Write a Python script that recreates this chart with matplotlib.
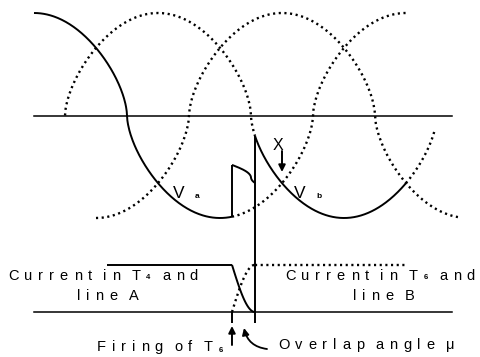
import numpy as np
import matplotlib
matplotlib.use("Agg")
import matplotlib.pyplot as plt
from matplotlib.transforms import IdentityTransform

plt.rcParams['font.family'] = ['Liberation Sans', 'DejaVu Sans']

W, H = 481, 357

# page layout of the sketch (pixels)
x0_px = 34.0        # left end of both axes, Va peak
period_px = 372.0   # one cycle
y0_px = 115.5       # voltage axis
amp_px = 102.5      # peak voltage

# waveform data (electrical degrees, per-unit)
shape_exp = 0.6                 # sketch waves are fuller than sinusoids
phase_a, phase_b, phase_c = 0, 120, 240
alpha = 191.6                   # firing of T6
mu = 22.3                       # overlap angle
w_comm = 0.66                   # weight of Va in the overlap voltage
axis_end = 404.5

va_solid = (0, alpha)
va_dot = (alpha, 360)
vb_solid = (alpha + mu, 360)
vb_dot = [(30, alpha + mu), (360, 388)]
vc_dot = (60, 412)

i_base = -1.917                 # current axis level
i_level = 0.46                  # load current
ia_start = 70.6
ib_end = 359


def px_x(p):
    return (p - x0_px) / period_px * 360


def px_y(p):
    return (y0_px - p) / amp_px


def wave(th, ph):
    c = np.cos(np.radians(th - ph))
    return np.sign(c) * np.abs(c) ** shape_exp


def span(a, b, n=300):
    return np.linspace(a, b, n)


fig = plt.figure(figsize=(W / 100, H / 100), dpi=100)
ax = fig.add_axes([0, 0, 1, 1])
ax.set_xlim(px_x(0), px_x(W))
ax.set_ylim(px_y(H), px_y(0))
ax.axis('off')

solid = dict(color='black', lw=1.4, solid_capstyle='butt')
dotted = dict(color='black', lw=1.7, linestyle=(0, (0.9, 1.5)), dash_capstyle='butt')

# axes
ax.plot([0, axis_end], [0, 0], color='black', lw=1.1)
ax.plot([0, axis_end], [i_base, i_base], color='black', lw=1.1)

# dotted phase voltages
t = span(*vc_dot)
ax.plot(t, wave(t, phase_c), **dotted)
for seg in vb_dot:
    t = span(*seg)
    ax.plot(t, wave(t, phase_b), **dotted)
t = span(*va_dot)
ax.plot(t, wave(t, phase_a), **dotted)

# solid output voltage
t = span(*va_solid)
ax.plot(t, wave(t, phase_a), **solid)
t = span(alpha, alpha + mu)
vcomm = w_comm * wave(t, phase_a) + (1 - w_comm) * wave(t, phase_b)
ax.plot(t, vcomm, **solid)
ax.plot([alpha, alpha], [wave(alpha, phase_a), vcomm[0]], **solid)
t = span(*vb_solid)
ax.plot(t, wave(t, phase_b), **solid)

# end of overlap line, down through the current axis
ax.plot([alpha + mu, alpha + mu], [wave(alpha + mu, phase_b), px_y(323)], **solid)
ax.plot([alpha, alpha], [i_base, px_y(323)], **solid)

# currents
s = np.linspace(0, 1, 100)
t = alpha + mu * s
ib = i_level * np.sin(np.pi / 2 * s)
ax.plot([ia_start, alpha], [i_base + i_level] * 2, **solid)
ax.plot(t, i_base + i_level - ib, **solid)
ax.plot(t, i_base + ib, **dotted)
ax.plot([alpha + mu, ib_end], [i_base + i_level] * 2, **dotted)

# arrows
ax.annotate('', xy=(px_x(282), px_y(172)), xytext=(px_x(282), px_y(151)),
            arrowprops=dict(arrowstyle='-|>', color='black', lw=1.4,
                            mutation_scale=10, shrinkA=0, shrinkB=0))
ax.annotate('', xy=(alpha, px_y(326)), xytext=(alpha, px_y(345)),
            arrowprops=dict(arrowstyle='-|>', color='black', lw=1.4,
                            mutation_scale=10, shrinkA=0, shrinkB=0))
ax.annotate('', xy=(px_x(244), px_y(328)), xytext=(px_x(267), px_y(349)),
            arrowprops=dict(arrowstyle='-|>', color='black', lw=1.3,
                            mutation_scale=10, shrinkA=0, shrinkB=0,
                            connectionstyle='arc3,rad=-0.35'))

renderer = fig.canvas.get_renderer()


def spaced(x, y, parts, track=5.8, gap=5.5):
    # letter-by-letter text with wide tracking, like the original
    for txt, fs, dy, bold in parts:
        for ch in txt:
            if ch == ' ':
                x += gap
                continue
            tt = fig.text(x, H - y - dy, ch, fontsize=fs, ha='left', va='center',
                          fontweight='bold' if bold else 'normal',
                          transform=IdentityTransform())
            x += tt.get_window_extent(renderer).width + track


spaced(8, 276, [('Current in T', 10.5, 0, False), ('4', 5.5, 1.5, True),
                (' and', 10.5, 0, False)])
spaced(77, 296, [('line A', 10.5, 0, False)])
spaced(285, 276, [('Current in T', 10.5, 0, False), ('6', 5.5, 1.5, True),
                  (' and', 10.5, 0, False)])
spaced(353, 296, [('line B', 10.5, 0, False)])
spaced(97, 347, [('Firing of T', 10.5, 0, False), ('6', 5.5, 3, True)])
spaced(278, 345, [('Overlap angle \u03bc', 10.5, 0, False)])

fig.text(179, H - 193, 'V', fontsize=12.5, ha='center', va='center',
         transform=IdentityTransform())
fig.text(197, H - 197, 'a', fontsize=6, fontweight='bold', ha='center',
         va='center', transform=IdentityTransform())
fig.text(300, H - 193, 'V', fontsize=12.5, ha='center', va='center',
         transform=IdentityTransform())
fig.text(319, H - 196, 'b', fontsize=6, fontweight='bold', ha='center',
         va='center', transform=IdentityTransform())
fig.text(278, H - 145, 'X', fontsize=11.5, ha='center', va='center',
         transform=IdentityTransform())

fig.savefig('out.png', dpi=100)
